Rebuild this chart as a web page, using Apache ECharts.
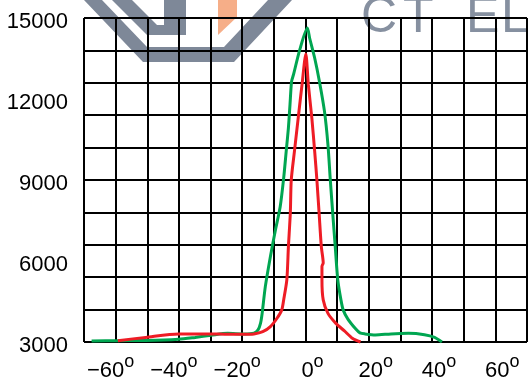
<!DOCTYPE html>
<html>
<head>
<meta charset="utf-8">
<script src="https://cdn.jsdelivr.net/npm/echarts@6/dist/echarts.min.js"></script>
<style>html,body{margin:0;padding:0;background:#fff}#c{width:530px;height:383px}</style>
</head>
<body>
<div id="c"></div>
<script>
// ---- data ----
const xTickLabels = [-60, -40, -20, 0, 20, 40, 60];
const yTickLabels = [3000, 6000, 9000, 12000, 15000];

const greenAngle = [-67.6, -59.3, -50.5, -40.1, -34.9, -29.8, -24.6, -19.4, -16.3, -15.0, -14.2, -13.7, -12.7, -11.1, -9.5, -8.0, -6.9, -6.1, -5.4, -4.9, -4.4, -3.8, -1.8, 0.6, 1.3, 2.9, 4.4, 6.0, 7.1, 7.8, 8.6, 9.4, 10.2, 11.2, 11.9, 13.4, 15.9, 17.2, 18.8, 22.1, 27.0, 32.5, 37.6, 40.8, 43.1];
const greenValue = [3040, 3050, 3055, 3100, 3170, 3250, 3320, 3300, 3330, 3450, 3700, 4060, 5050, 6160, 7150, 8010, 9070, 10060, 10930, 11790, 12650, 12900, 13830, 14630, 14260, 13520, 12650, 11540, 10300, 9070, 7770, 6530, 5300, 4560, 4190, 3850, 3480, 3340, 3300, 3260, 3300, 3320, 3270, 3170, 3000];

const redAngle = [-59.3, -50.5, -40.1, -29.8, -24.6, -19.4, -16.3, -13.5, -11.1, -9.0, -7.5, -6.9, -5.9, -5.4, -4.8, -4.5, -3.5, -2.3, -1.1, 0.1, 0.9, 2.0, 2.9, 3.6, 4.3, 5.0, 5.6, 5.2, 5.2, 5.6, 7.1, 9.6, 12.3, 14.8, 17.4];
const redValue = [3050, 3170, 3300, 3300, 3285, 3285, 3300, 3380, 3570, 3880, 4190, 4560, 5300, 6530, 7770, 9000, 10060, 11300, 12530, 13670, 12530, 11300, 10060, 9000, 7770, 6530, 5930, 5800, 5300, 4560, 4060, 3690, 3410, 3140, 3000];

const pairs = (xs, ys) => xs.map((x, i) => [x, ys[i]]);

const FONT = 'Liberation Sans';
const chart = echarts.init(document.getElementById('c'), null, {renderer: 'canvas'});

const gray = '#7e8898';
const wmText = (t, x) => ({type: 'text', z: -10, x: x, y: 18.5,
  style: {text: t, font: '50px "Liberation Sans"', fill: '#8690a0', verticalAlign: 'middle'}});
chart.setOption({
  animation: false,
  backgroundColor: '#ffffff',
  graphic: [
    {type: 'polygon', z: -10, shape: {points: [[84,0],[102,0],[147,47],[224,47],[268,0],[292,0],[234,62],[143,62]]}, style: {fill: gray}},
    {type: 'polygon', z: -10, shape: {points: [[112,0],[132,0],[157,25],[164,25],[164,0],[186,0],[186,35],[147,35]]}, style: {fill: gray}},
    {type: 'polygon', z: -10, shape: {points: [[218,0],[237,0],[237,17],[218,35]]}, style: {fill: '#f6ae88'}},
    wmText('C', 361), wmText('T', 403), wmText('E', 466), wmText('L', 501), wmText('I', 526)
  ],
  grid: {left: 84, right: -4, top: 18, bottom: 41},
  xAxis: {
    type: 'value', min: -70, max: 70, interval: 10,
    axisLine: {show: false}, axisTick: {show: false},
    splitLine: {show: true, lineStyle: {color: '#000', width: 2}},
    axisLabel: {
      interval: 0, margin: 11, hideOverlap: false,
      formatter: v => {
        if (!xTickLabels.includes(v)) return '';
        if (v < 0) return '{n|\u2212' + (-v) + '}{d|o}{r|}';
        return '{l|}{n|' + v + '}{d|o}';
      },
      rich: {
        n: {fontSize: 22, fontFamily: FONT, color: '#000', lineHeight: 36},
        d: {fontSize: 18, fontFamily: FONT, color: '#000', lineHeight: 18, verticalAlign: 'top'},
        l: {width: 14},
        r: {width: 10}
      }
    }
  },
  yAxis: [
    {
      type: 'value', min: 3000, max: 15000, interval: 1200,
      axisLine: {show: false}, axisTick: {show: false},
      axisLabel: {show: false},
      splitLine: {show: true, lineStyle: {color: '#000', width: 2}}
    },
    {
      type: 'value', min: 3000, max: 15000, interval: 3000, position: 'left',
      axisLine: {show: false}, axisTick: {show: false},
      splitLine: {show: false},
      axisLabel: {
        margin: 16,
        formatter: v => yTickLabels.includes(v) ? '{v|' + v + '}' : '',
        rich: {v: {fontSize: 22, fontFamily: FONT, color: '#000', padding: [8, 0, 0, 0]}}
      }
    }
  ],
  series: [
    {
      type: 'line', yAxisIndex: 0, data: pairs(greenAngle, greenValue),
      smooth: 0.25, showSymbol: false, clip: false,
      lineStyle: {color: '#00a651', width: 3}
    },
    {
      type: 'line', yAxisIndex: 0, data: pairs(redAngle, redValue),
      smooth: 0.25, showSymbol: false, clip: false,
      lineStyle: {color: '#ee1c25', width: 3}
    }
  ]
});
</script>
</body>
</html>
